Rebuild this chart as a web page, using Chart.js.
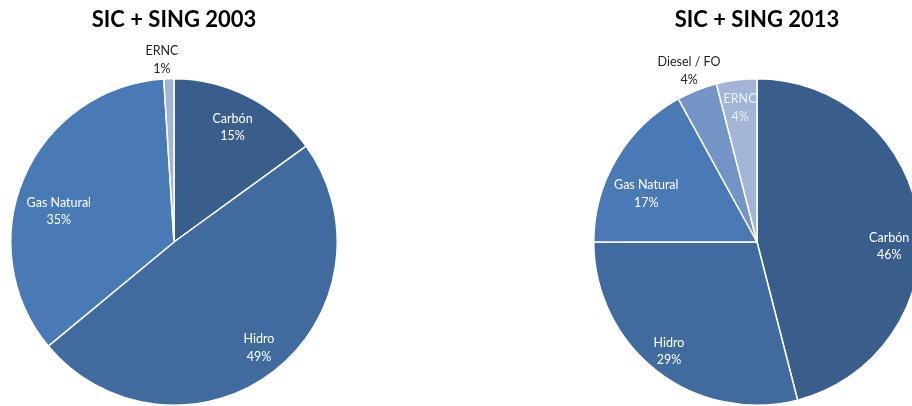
<!DOCTYPE html>
<html>
<head>
<meta charset="utf-8">
<script src="https://cdn.jsdelivr.net/npm/chart.js@4.4.1/dist/chart.umd.min.js"></script>
<style>
  html, body { margin: 0; padding: 0; background: #fff; overflow: hidden; width: 912px; height: 406px; }
  canvas { position: absolute; top: 0; }
  #pie2003 { left: 0; }
  #pie2013 { left: 592px; }
</style>
</head>
<body>
<canvas id="pie2003" width="348" height="406"></canvas>
<canvas id="pie2013" width="330" height="406"></canvas>
<script>
// shares of generation, %
const labels2003 = ["Carbón", "Hidro", "Gas Natural", "ERNC"];
const values2003 = [15, 49, 35, 1];

const labels2013 = ["Carbón", "Hidro", "Gas Natural", "Diesel / FO", "ERNC"];
const values2013 = [46, 29, 17, 4, 4];

const colors = {
  "Carbón": "#3a5e8b",
  "Hidro": "#416b9f",
  "Gas Natural": "#4a7ab5",
  "Diesel / FO": "#7594c6",
  "ERNC": "#a2b5d7"
};

// draws "name / xx%" on every slice (no datalabels plugin available offline)
const sliceLabels = {
  id: "sliceLabels",
  afterDatasetsDraw(chart, args, opts) {
    const ctx = chart.ctx;
    const ds = chart.data.datasets[0];
    chart.getDatasetMeta(0).data.forEach((arc, i) => {
      const p = arc.getProps(["x", "y", "startAngle", "endAngle", "outerRadius"], true);
      const mid = (p.startAngle + p.endAngle) / 2 + (opts.shift[i] || 0) * Math.PI / 180;
      const r = p.outerRadius * opts.radius[i];
      const lx = p.x + Math.cos(mid) * r;
      const ly = p.y + Math.sin(mid) * r;
      ctx.save();
      ctx.font = "12.5px Lato, 'Open Sans', sans-serif";
      ctx.fillStyle = opts.color[i];
      ctx.textAlign = "center";
      ctx.textBaseline = "middle";
      ctx.fillText(chart.data.labels[i], lx, ly - 8.5);
      ctx.fillText(ds.data[i] + "%", lx, ly + 9);
      ctx.restore();
    });
  }
};

function makePie(id, title, labels, values, labelOpts) {
  new Chart(document.getElementById(id), {
    type: "pie",
    data: {
      labels: labels,
      datasets: [{
        data: values,
        backgroundColor: labels.map(l => colors[l]),
        borderColor: "#ffffff",
        borderWidth: 1.5
      }]
    },
    plugins: [sliceLabels],
    options: {
      responsive: false,
      animation: false,
      devicePixelRatio: 1,
      layout: { padding: 0 },
      plugins: {
        legend: { display: false },
        tooltip: { enabled: false },
        title: {
          display: true,
          text: title,
          color: "#000",
          font: { size: 22, weight: "bold", family: "Lato, 'Open Sans', sans-serif", lineHeight: 1.2 },
          padding: { top: 7, bottom: 44.6 }
        },
        sliceLabels: labelOpts
      }
    }
  });
}

makePie("pie2003", "SIC + SING 2003", labels2003, values2003, {
  radius: [0.79, 0.83, 0.73, 1.12],
  shift: [0, -1, -8.5, -2],
  color: ["#fff", "#fff", "#fff", "#222"]
});

makePie("pie2013", "SIC + SING 2013", labels2013, values2013, {
  radius: [0.81, 0.86, 0.74, 1.13, 0.83],
  shift: [9, 1, -7, 0, 0],
  color: ["#fff", "#fff", "#fff", "#222", "#eef2fa"]
});
</script>
</body>
</html>
